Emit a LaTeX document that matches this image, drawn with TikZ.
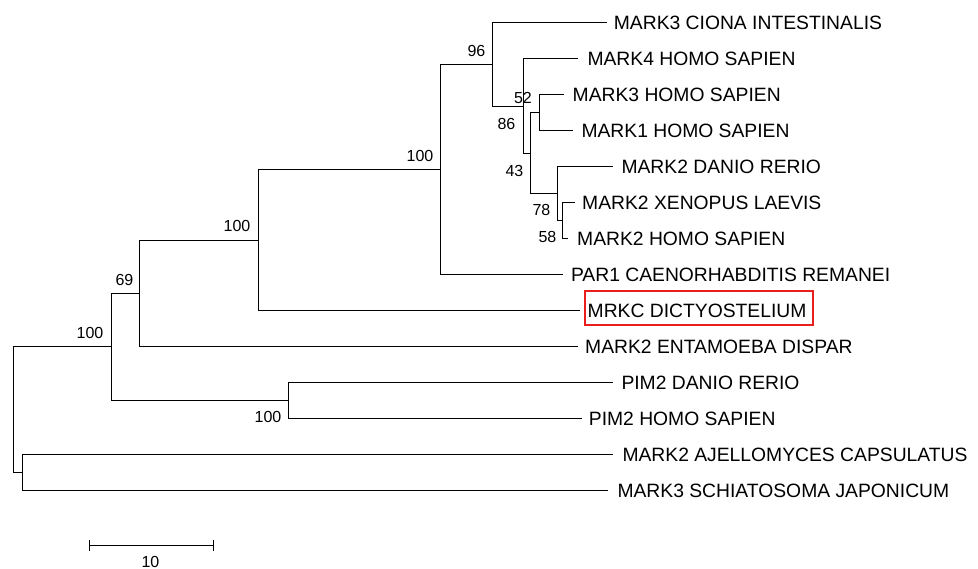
\documentclass[tikz,border=0pt]{standalone}
\usepackage{fontspec}
\setmainfont{Liberation Sans}
\usetikzlibrary{calc}
\definecolor{boxred}{RGB}{235,30,30}
\begin{document}
\begin{tikzpicture}[x=1pt,y=-1pt,
  br/.style={line width=1.3pt, draw=black},
  leaf/.style={anchor=west, inner sep=0pt, xshift=7pt, font=\fontsize{19.3}{22}\selectfont},
  bs/.style={anchor=east, inner sep=0pt, font=\fontsize{16}{19}\selectfont},
  redbox/.style={line width=2pt, draw=boxred},
]
\useasboundingbox (0,0) rectangle (978,569);
% leaf tips
\coordinate (l0) at (606.7,22.5);
\coordinate (l1) at (578.3,58.5);
\coordinate (l2) at (564,94.5);
\coordinate (l3) at (573.3,130.5);
\coordinate (l4) at (613.3,166.5);
\coordinate (l5) at (575,202.5);
\coordinate (l6) at (568,238.5);
\coordinate (l7) at (563.3,274.5);
\coordinate (l8) at (580,310.5);
\coordinate (l9) at (578,346.5);
\coordinate (l10) at (613.3,382.5);
\coordinate (l11) at (581.7,418.5);
\coordinate (l12) at (613.3,454.5);
\coordinate (l13) at (608.3,490.5);
% internal nodes
\coordinate (n52) at (539.5,112.5);
\coordinate (n58) at (562.5,220.5);
\coordinate (n78) at (557.5,193.5);
\coordinate (n43) at (530.5,153.5);
\coordinate (n86) at (523.5,106.5);
\coordinate (n96) at (492.5,64.5);
\coordinate (na) at (440.5,169.5);
\coordinate (nb) at (258.5,240.5);
\coordinate (n69) at (139.5,293.5);
\coordinate (npim) at (288.5,400.5);
\coordinate (nc) at (111.5,346.5);
\coordinate (nfung) at (22.5,472.5);
\coordinate (root) at (13.5,410);
% branches
\draw[br] (n52) |- (l2);  \draw[br] (n52) |- (l3);
\draw[br] (n58) |- (l5);  \draw[br] (n58) |- (l6);
\draw[br] (n78) |- (l4);  \draw[br] (n78) |- (n58);
\draw[br] (n43) |- (n52); \draw[br] (n43) |- (n78);
\draw[br] (n86) |- (l1);  \draw[br] (n86) |- (n43);
\draw[br] (n96) |- (l0);  \draw[br] (n96) |- (n86);
\draw[br] (na) |- (n96);  \draw[br] (na) |- (l7);
\draw[br] (nb) |- (na);   \draw[br] (nb) |- (l8);
\draw[br] (n69) |- (nb);  \draw[br] (n69) |- (l9);
\draw[br] (npim) |- (l10); \draw[br] (npim) |- (l11);
\draw[br] (nc) |- (n69);  \draw[br] (nc) |- (npim);
\draw[br] (nfung) |- (l12); \draw[br] (nfung) |- (l13);
\draw[br] (root) |- (nc); \draw[br] (root) |- (nfung);
% leaf labels
\node[leaf] (t0) at (l0) {MARK3 CIONA INTESTINALIS};
\node[leaf, xshift=2pt] (t1) at (l1) {MARK4 HOMO SAPIEN};
\node[leaf, xshift=1.5pt] (t2) at (l2) {MARK3 HOMO SAPIEN};
\node[leaf, xshift=1pt] (t3) at (l3) {MARK1 HOMO SAPIEN};
\node[leaf, xshift=1pt] (t4) at (l4) {MARK2 DANIO RERIO};
\node[leaf] (t5) at (l5) {MARK2 XENOPUS LAEVIS};
\node[leaf, xshift=2pt] (t6) at (l6) {MARK2 HOMO SAPIEN};
\node[leaf, xshift=0.5pt] (t7) at (l7) {PAR1 CAENORHABDITIS REMANEI};
\node[leaf, xshift=0.5pt] (t8) at (l8) {MRKC DICTYOSTELIUM};
\node[leaf] (t9) at (l9) {MARK2 ENTAMOEBA DISPAR};
\node[leaf, xshift=1pt] (t10) at (l10) {PIM2 DANIO RERIO};
\node[leaf] (t11) at (l11) {PIM2 HOMO SAPIEN};
\node[leaf, xshift=2pt] (t12) at (l12) {MARK2 AJELLOMYCES CAPSULATUS};
\node[leaf, xshift=2pt] (t13) at (l13) {MARK3 SCHIATOSOMA JAPONICUM};
\draw[redbox] ($(t8.west)+(-2.5,-19.5)$) rectangle ($(t8.east)+(6.5,14.5)$);
% bootstrap values
\path (n96) ++(-7,-14) node[bs] (b96) {96};
\path (na) ++(-7,-14) node[bs] (bna) {100};
\path (nb) ++(-8,-14.5) node[bs] (bnb) {100};
\path (n69) ++(-6,-13.5) node[bs] (b69) {69};
\path (nc) ++(-8,-14) node[bs] (bnc) {100};
\path (npim) ++(-7,16) node[bs] (bpim) {100};
\path (n86) ++(-8,17) node[bs] (b86) {86};
\path (n52) ++(-7.5,-14.5) node[bs] (b52) {52};
\path (n43) ++(-7,17) node[bs] (b43) {43};
\path (n78) ++(-7,16.5) node[bs] (b78) {78};
\path (n58) ++(-6,16.5) node[bs] (b58) {58};
% scale bar
\coordinate (s0) at (89.5,545.5);
\coordinate (s1) at (213.5,545.5);
\draw[br] (s0) -- (s1);
\draw[br] ($(s0)+(0,-5.5)$) -- ($(s0)+(0,5.5)$);
\draw[br] ($(s1)+(0,-5.5)$) -- ($(s1)+(0,5.5)$);
\node[inner sep=0pt, font=\fontsize{16}{19}\selectfont] (sl) at (150.5,561.5) {10};
\end{tikzpicture}
\end{document}
